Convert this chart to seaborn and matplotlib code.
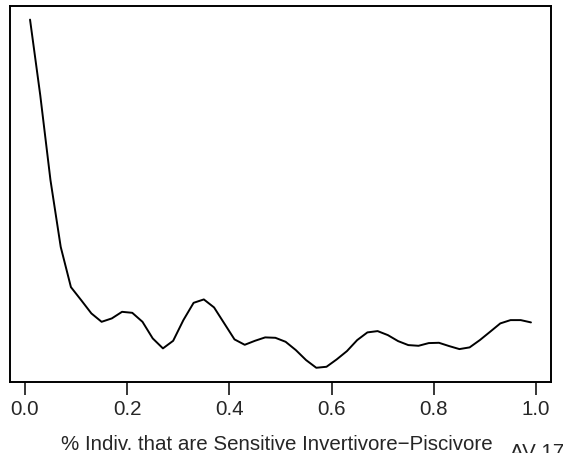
import matplotlib
matplotlib.use("Agg")
import matplotlib.pyplot as plt
import seaborn as sns
import pandas as pd

# proportion of sensitive invertivore-piscivore individuals (x) and smoothed response (y)
pct_indiv = [0.01, 0.03, 0.05, 0.07, 0.09, 0.11, 0.13, 0.15, 0.17, 0.19,
             0.21, 0.23, 0.25, 0.27, 0.29, 0.31, 0.33, 0.35, 0.37, 0.39,
             0.41, 0.43, 0.45, 0.47, 0.49, 0.51, 0.53, 0.55, 0.57, 0.59,
             0.61, 0.63, 0.65, 0.67, 0.69, 0.71, 0.73, 0.75, 0.77, 0.79,
             0.81, 0.83, 0.85, 0.87, 0.89, 0.91, 0.93, 0.95, 0.97, 0.99]
response = [3.807, 3.05, 2.20, 1.533, 1.13, 1.00, 0.867, 0.783, 0.817, 0.883,
            0.873, 0.783, 0.617, 0.517, 0.593, 0.80, 0.973, 1.007, 0.927, 0.767,
            0.607, 0.553, 0.593, 0.627, 0.623, 0.583, 0.50, 0.40, 0.323, 0.333,
            0.407, 0.49, 0.60, 0.677, 0.69, 0.65, 0.59, 0.55, 0.543, 0.57,
            0.573, 0.54, 0.51, 0.527, 0.60, 0.683, 0.767, 0.80, 0.80, 0.777]
x_ticks = [0.0, 0.2, 0.4, 0.6, 0.8, 1.0]
x_label = "% Indiv. that are Sensitive Invertivore\u2212Piscivore"
corner_label = "AV 17"

df = pd.DataFrame({"x": pct_indiv, "y": response})

sns.set_theme(style="ticks")
plt.rcParams["font.family"] = ["Liberation Sans", "DejaVu Sans"]

fig = plt.figure(figsize=(5.63, 4.53), dpi=100)
ax = fig.add_axes([10 / 563, (453 - 381.7) / 453, 541 / 563, 376 / 453])

sns.lineplot(data=df, x="x", y="y", color="black", linewidth=1.4, ax=ax)

# R-style 4% axis padding
xr = max(pct_indiv) - min(pct_indiv)
yr = max(response) - min(response)
ax.set_xlim(min(pct_indiv) - 0.04 * xr, max(pct_indiv) + 0.04 * xr)
ax.set_ylim(min(response) - 0.04 * yr, max(response) + 0.04 * yr)

ax.set_xticks(x_ticks)
ax.set_xticklabels([f"{t:.1f}" for t in x_ticks], fontsize=14.8)
ax.tick_params(axis="x", length=9.4, width=1.1, pad=4, color="black")
ax.set_yticks([])
ax.set_xlabel("")
ax.set_ylabel("")
for s in ax.spines.values():
    s.set_visible(True)
    s.set_color("black")
    s.set_linewidth(1.4)

fig.text(0.492, (453 - 450.5) / 453, x_label, ha="center", va="baseline", fontsize=14.8)
fig.text(510 / 563, (453 - 458) / 453, corner_label, ha="left", va="baseline", fontsize=14.8)

fig.savefig("out.png", dpi=100)
plt.close(fig)
